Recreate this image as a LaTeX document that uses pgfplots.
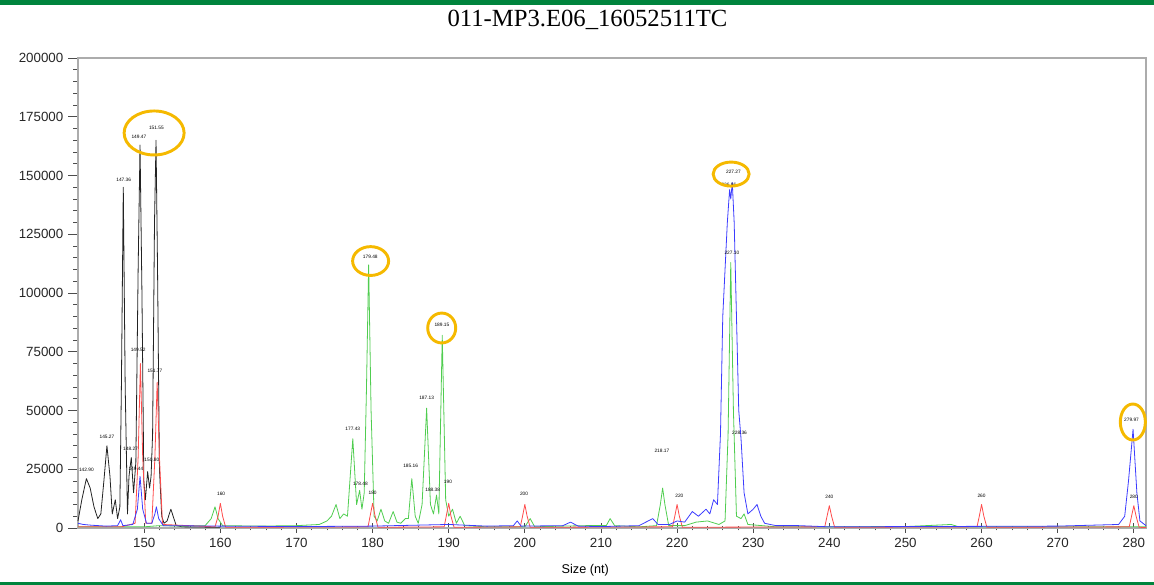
\documentclass[border=0pt]{standalone}
\usepackage{fontspec}
\setmainfont{Liberation Sans}
\newfontfamily\titlefont{Liberation Serif}
\usepackage{pgfplots}
\pgfplotsset{compat=1.18}
\definecolor{bargreen}{RGB}{0,132,61}
\definecolor{trblue}{RGB}{60,60,255}
\definecolor{trred}{RGB}{255,75,75}
\definecolor{trgreen}{RGB}{80,205,80}
\definecolor{trblack}{RGB}{35,35,35}
\definecolor{ring}{RGB}{245,185,0}
\begin{document}
\begin{tikzpicture}
\path[use as bounding box] (0,0) rectangle (865.5pt,438.75pt);
\fill[bargreen] (0,435pt) rectangle (865.5pt,438.75pt);
\fill[bargreen] (0,0) rectangle (865.5pt,2pt);
\node[font=\titlefont\fontsize{18.5}{20}\selectfont] at (440.6pt,424pt) {011-MP3.E06\_16052511TC};
\begin{axis}[
  at={(58.5pt,42.75pt)}, anchor=south west,
  scale only axis, width=801pt, height=352.5pt,
  xmin=141.3, xmax=281.6, ymin=0, ymax=200000,
  axis line style={gray!65, line width=1pt},
  xtick={150,160,...,280}, ytick={0,25000,...,200000},
  minor x tick num=4, minor y tick num=4,
  xtick pos=bottom, ytick pos=left,
  xtick align=center, ytick align=outside,
  major tick length=7.5pt, minor tick length=3.5pt,
  tick style={gray!60!black, line width=0.6pt},
  scaled y ticks=false, scaled x ticks=false,
  /pgf/number format/.cd, fixed, precision=0, set thousands separator={}, assume math mode=true,
  /pgfplots/.cd,
  tick label style={font=\fontsize{10}{12}\selectfont, text=black!85},
  xlabel={Size (nt)},
  xlabel style={at={(axis description cs:0.475,0)}, anchor=north, yshift=-24pt, font=\fontsize{9.5}{11}\selectfont},
  every axis plot/.append style={line width=0.6pt, line join=round},
  clip=false,
]
% black
\addplot[trblack] coordinates {
(141.3,3000)(141.8,12000)(142.4,21000)(142.9,17000)(143.4,9000)(143.9,4000)(144.3,6000)(144.7,20000)(145.1,35000)(145.5,22000)(145.8,6000)(146.2,12000)(146.5,4000)(146.8,9000)(147.0,60000)(147.25,145000)(147.5,60000)(147.8,6000)(148.0,22000)(148.3,30000)(148.6,15000)(148.9,28000)(149.2,110000)(149.45,163000)(149.7,100000)(149.95,20000)(150.15,12000)(150.45,24000)(150.7,17000)(150.9,22000)(151.1,40000)(151.35,130000)(151.55,165000)(151.75,110000)(152.0,25000)(152.3,5000)(152.6,2000)(153.0,3000)(153.5,8000)(153.8,5000)(154.2,1000)(155,500)(160,300)
};
% green
\addplot[trgreen] coordinates {
(141.3,500)(150,500)(152,1000)(155,800)(158,1000)(158.8,4000)(159.3,9000)(159.7,4000)(160.3,1000)(165,800)(170,1000)(173,1500)(174,3000)(174.6,5000)(175.2,10000)(175.7,4000)(176.2,6000)(176.7,5000)(177.4,38000)(177.9,10000)(178.3,16000)(178.6,8000)(178.9,15000)(179.2,60000)(179.48,112000)(179.8,50000)(180.2,5000)(180.6,3000)(181.1,8000)(181.6,3000)(182.1,2000)(182.7,7000)(183.2,2500)(183.7,2000)(184.3,4000)(184.7,4000)(185.15,21000)(185.6,5000)(186.0,2000)(186.5,10000)(187.1,51000)(187.6,10000)(188.0,6000)(188.4,14000)(188.7,6000)(189.15,82000)(189.6,12000)(190.0,5000)(190.5,8000)(191.0,2000)(191.5,5000)(192.1,1000)(195,500)(200,500)(200.7,4000)(201.3,500)(205,800)(208,1000)(210.7,1000)(211.2,4000)(211.8,1000)(215,500)(217.3,1000)(217.8,10000)(218.1,17000)(218.4,10000)(218.9,1000)(221,1000)(222.5,2500)(224,3000)(225.5,1500)(226.3,3000)(226.7,40000)(227.05,113000)(227.4,50000)(227.8,5000)(228.4,4000)(228.8,6000)(229.3,1500)(233,500)(250,600)(256,1500)(257,500)(270,500)(279,500)(281.6,500)
};
% red
\addplot[trred] coordinates {
(141.3,500)(147,500)(148.8,2000)(149.2,30000)(149.5,70000)(149.8,30000)(150.2,2000)(151.0,2000)(151.4,30000)(151.7,62000)(152.0,30000)(152.4,1500)(159.3,500)(159.7,5000)(160,10500)(160.3,5000)(160.7,300)(179.4,500)(179.7,5500)(180,10500)(180.3,5500)(180.7,300)(189.4,500)(189.7,5500)(190,10500)(190.3,5000)(190.7,300)(199.4,500)(199.7,5000)(200,10000)(200.3,5000)(200.7,300)(219.4,500)(219.7,5000)(220,10000)(220.3,5000)(220.7,300)(239.4,500)(239.7,5000)(240,9500)(240.3,5000)(240.7,300)(259.4,500)(259.7,5000)(260,10000)(260.3,5000)(260.7,300)(279.4,500)(279.7,5000)(280,9500)(280.3,5000)(280.7,300)(281.6,200)
};
% blue
\addplot[trblue] coordinates {
(141.3,2000)(142,1500)(143,1200)(145,800)(146.5,1000)(146.9,3500)(147.2,1000)(148.5,1500)(149.1,8000)(149.45,22000)(149.8,8000)(150.3,2000)(151.0,2000)(151.4,6000)(151.6,9000)(151.9,4000)(152.5,1000)(160,800)(170,600)(180,800)(190,1500)(195,800)(198.5,1000)(199,3000)(199.5,800)(205,1000)(206,2500)(207,800)(210,600)(215,1000)(216.8,4000)(217.5,1500)(219,1500)(220,3000)(221,2500)(222,7000)(222.8,5000)(223.8,8000)(224.3,6000)(224.8,12000)(225.3,10000)(225.7,40000)(226.0,90000)(226.3,110000)(226.6,130000)(226.9,144000)(227.05,140000)(227.25,147000)(227.5,130000)(227.8,90000)(228.1,50000)(228.4,38000)(228.8,15000)(229.3,6000)(230,8000)(230.5,10000)(231,5000)(231.5,2000)(233,1000)(236,1000)(240,500)(250,600)(270,800)(278,1500)(278.8,5000)(279.3,20000)(279.9,42000)(280.4,15000)(280.8,3000)(281.6,1000)
};
% peak labels
\begin{scope}[every node/.style={font=\fontsize{3.6}{4}\selectfont, inner sep=0.5pt}]
\node at (axis cs:142.4,24700) {142.90};
\node at (axis cs:145.1,38700) {145.27};
\node at (axis cs:147.3,148000) {147.36};
\node at (axis cs:149.3,166400) {149.47};
\node at (axis cs:151.6,170200) {151.55};
\node at (axis cs:149.2,75700) {149.52};
\node at (axis cs:151.4,66800) {151.77};
\node at (axis cs:148.2,33600) {148.27};
\node at (axis cs:148.9,25000) {149.44};
\node at (axis cs:151.0,29000) {150.80};
\node at (axis cs:160.1,14500) {160};
\node at (axis cs:177.4,42100) {177.43};
\node at (axis cs:178.4,18700) {178.48};
\node at (axis cs:180,14900) {180};
\node at (axis cs:179.7,115300) {179.48};
\node at (axis cs:185.0,26400) {185.16};
\node at (axis cs:187.1,55300) {187.13};
\node at (axis cs:187.9,16200) {188.38};
\node at (axis cs:189.1,86400) {189.15};
\node at (axis cs:189.9,19600) {190};
\node at (axis cs:199.9,14500) {200};
\node at (axis cs:218.0,32800) {218.17};
\node at (axis cs:220.3,13600) {220};
\node at (axis cs:227.4,151500) {227.27};
\node at (axis cs:226.8,146000) {226.96};
\node at (axis cs:227.2,117000) {227.10};
\node at (axis cs:228.2,40400) {228.36};
\node at (axis cs:240,13200) {240};
\node at (axis cs:260,13600) {260};
\node at (axis cs:280,13200) {280};
\node at (axis cs:279.7,46000) {279.97};
\end{scope}
% rings
\begin{scope}[ring, line width=2.2pt]
\draw (axis cs:151.3,168100) ellipse [x radius=22.5pt, y radius=16.5pt];
\draw (axis cs:179.74,113600) ellipse [x radius=13.5pt, y radius=10.8pt];
\draw (axis cs:189.08,85100) ellipse [x radius=10.5pt, y radius=11.2pt];
\draw (axis cs:227.1,150600) ellipse [x radius=13.5pt, y radius=9pt];
\draw (axis cs:279.87,45100) ellipse [x radius=9.4pt, y radius=13.5pt];
\end{scope}
\end{axis}
\end{tikzpicture}
\end{document}
